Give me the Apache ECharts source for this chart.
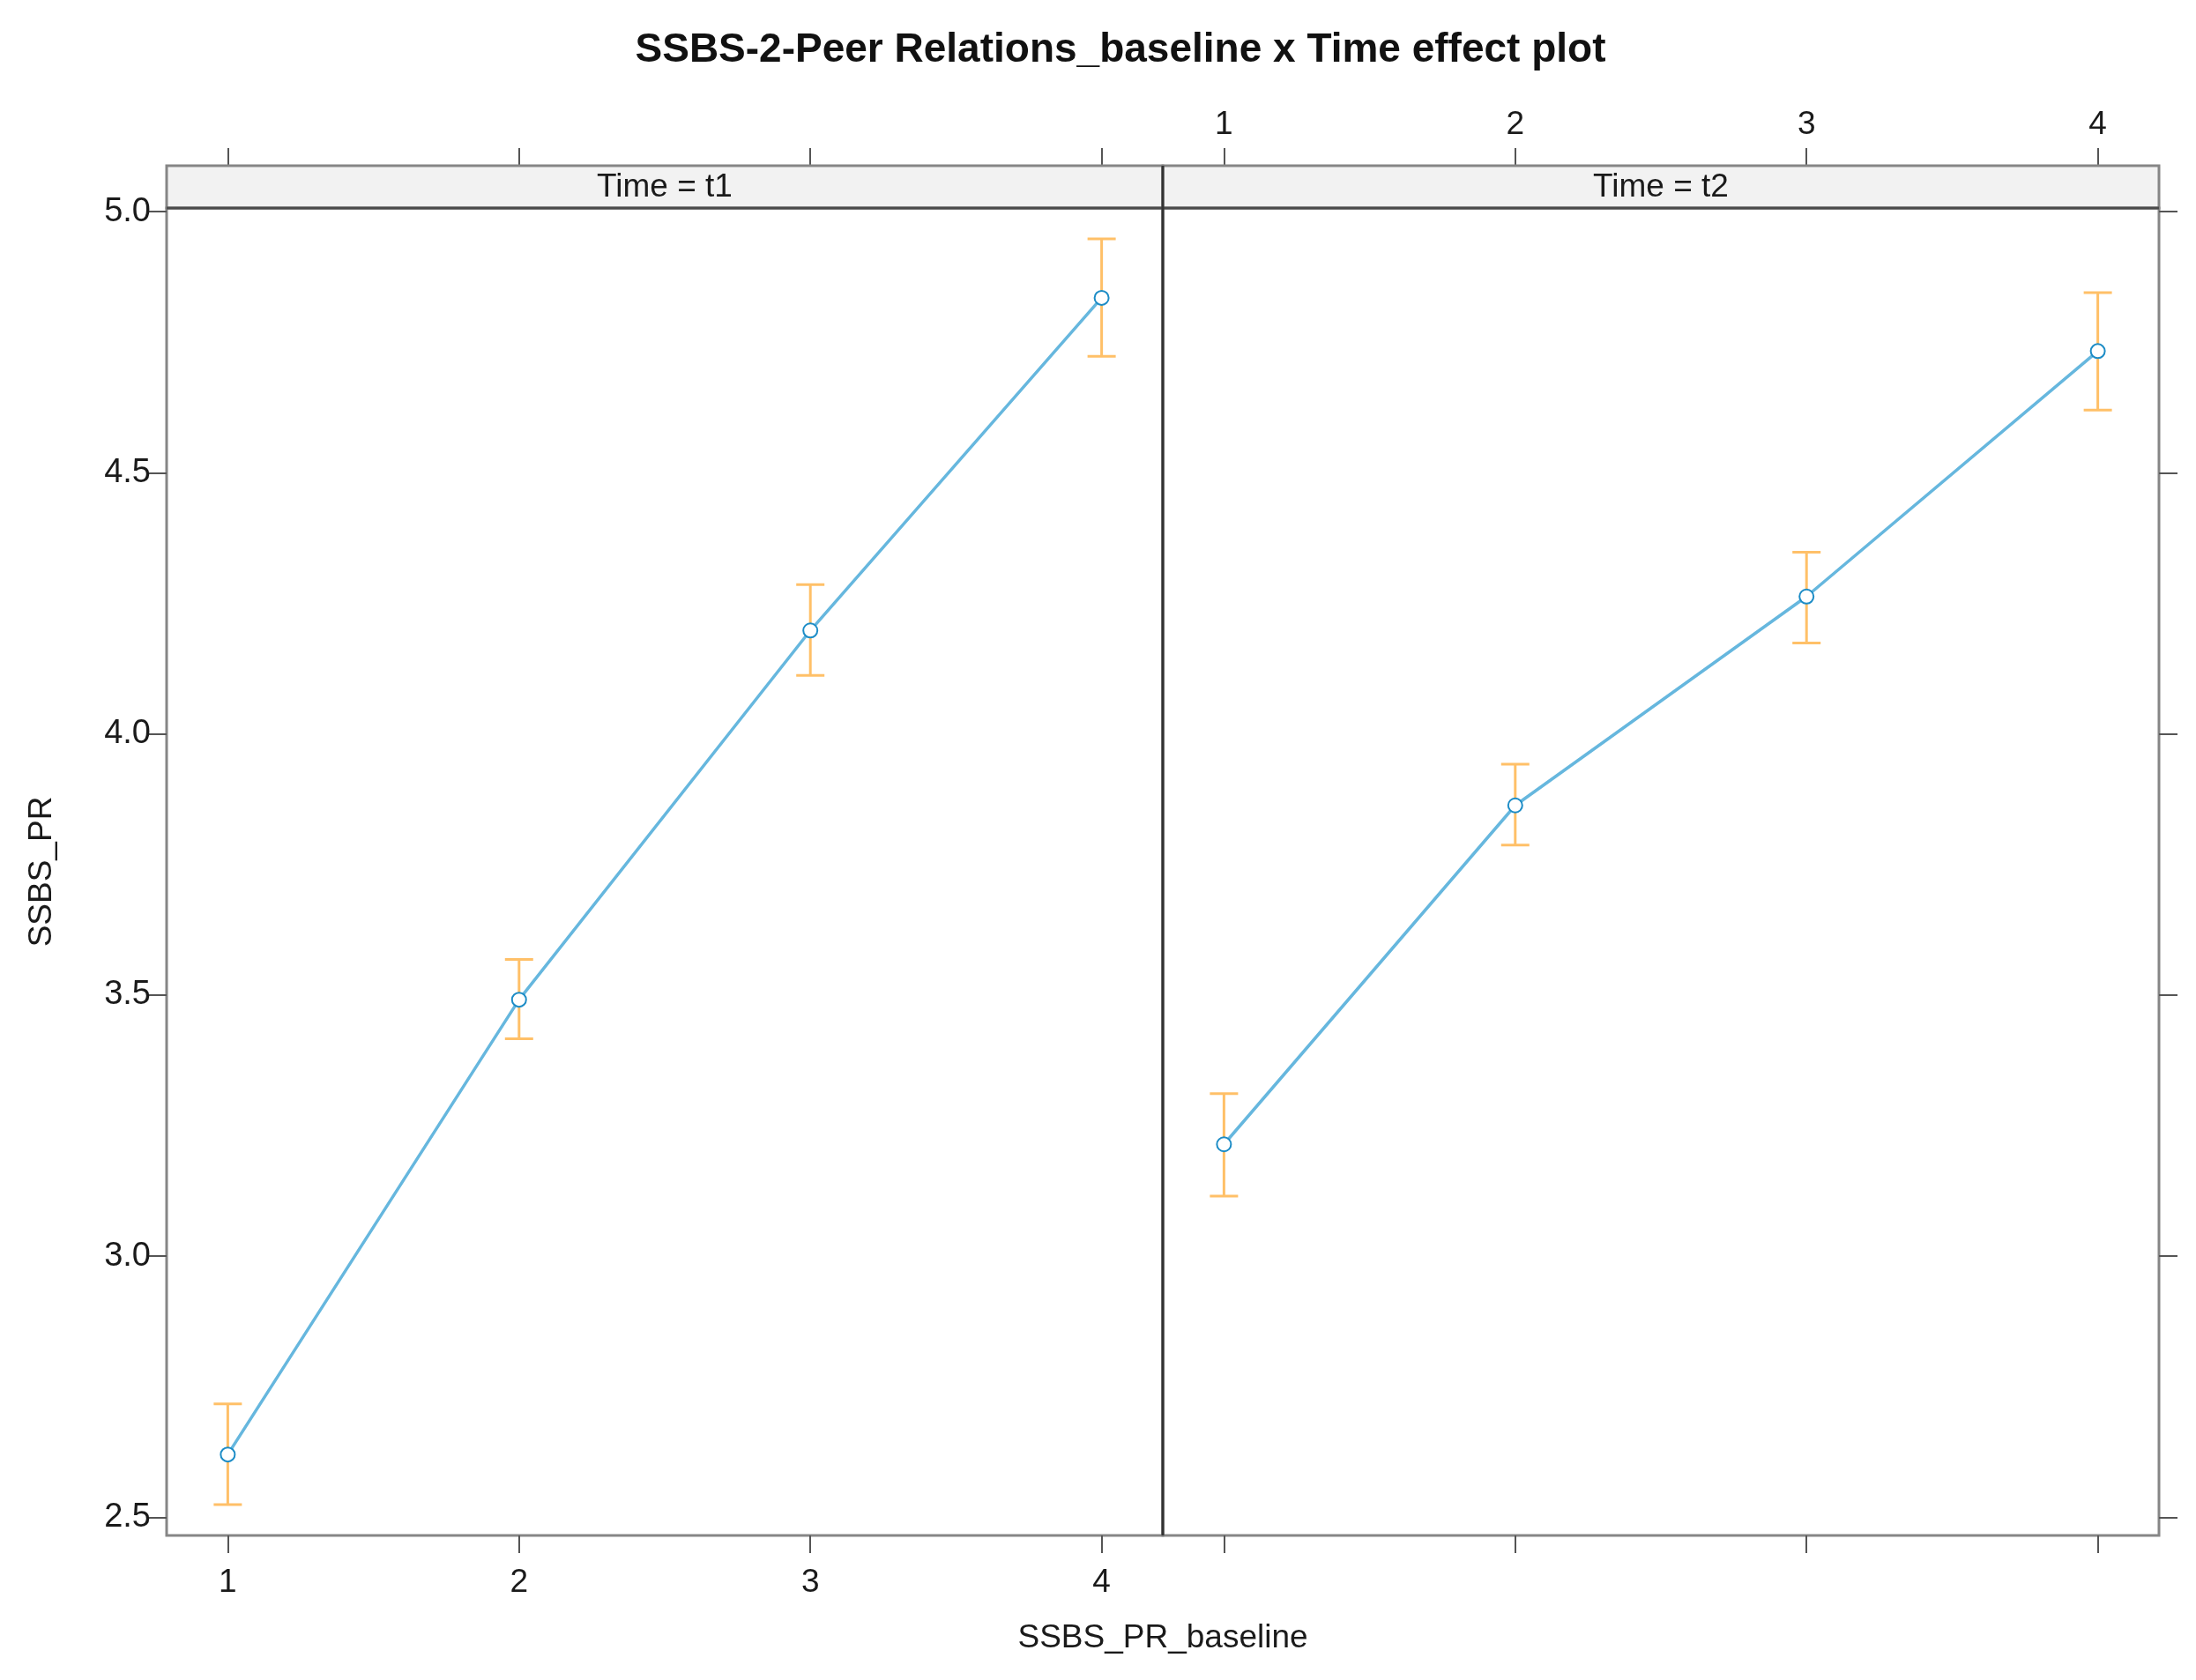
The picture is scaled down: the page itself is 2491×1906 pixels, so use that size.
<!DOCTYPE html>
<html>
<head>
<meta charset="utf-8">
<title>SSBS-2-Peer Relations_baseline x Time effect plot</title>
<script src="https://cdn.jsdelivr.net/npm/echarts@6/dist/echarts.min.js"></script>
<style>
  body { margin: 0; background: #fff; }
  #chart { width: 2491px; height: 1906px; }
</style>
</head>
<body>
<div id="chart"></div>
<script>
// values
const baseline = [1, 2, 3, 4];
const t1Fit = [2.620, 3.491, 4.198, 4.835];
const t1Lower = [2.524, 3.416, 4.112, 4.723];
const t1Upper = [2.717, 3.568, 4.286, 4.948];
const t2Fit = [3.214, 3.863, 4.263, 4.733];
const t2Lower = [3.115, 3.787, 4.174, 4.620];
const t2Upper = [3.311, 3.942, 4.348, 4.845];
const xTicks = [1, 2, 3, 4];
const yTicks = [2.5, 3.0, 3.5, 4.0, 4.5, 5.0];
const panelNames = ["Time = t1", "Time = t2"];

const FONT = "'Liberation Sans', Arial, sans-serif";
const LINE = "#66b7de";
const POINT = "#1c8cc6";
const BAR = "#ffc068";
const BORDER = "#868686";

// panel geometry (px)
const panelTop = 236, panelBottom = 1742, stripH = 48;
const p1Left = 189, pW = 1130, p2Left = p1Left + pW;

const chart = echarts.init(document.getElementById("chart"));

function pairs(xs, ys) {
  return xs.map((x, i) => [x, ys[i]]);
}
function bars(xs, lo, hi) {
  return xs.map((x, i) => [x, lo[i], hi[i]]);
}

function renderBar(params, api) {
  const x = api.value(0);
  const lo = api.coord([x, api.value(1)]);
  const hi = api.coord([x, api.value(2)]);
  const w = 16;
  const style = { stroke: BAR, lineWidth: 3 };
  return {
    type: "group",
    children: [
      { type: "line", shape: { x1: lo[0], y1: lo[1], x2: hi[0], y2: hi[1] }, style: style },
      { type: "line", shape: { x1: lo[0] - w, y1: lo[1], x2: lo[0] + w, y2: lo[1] }, style: style },
      { type: "line", shape: { x1: hi[0] - w, y1: hi[1], x2: hi[0] + w, y2: hi[1] }, style: style }
    ]
  };
}

function xAxis(grid, pos, labels) {
  return {
    type: "value",
    gridIndex: grid,
    position: pos,
    offset: pos === "top" ? stripH : 0,
    min: 0.79,
    max: 4.21,
    axisLine: { show: false },
    splitLine: { show: false },
    axisTick: { show: true, length: 20, customValues: xTicks, lineStyle: { color: "#555", width: 2 } },
    axisLabel: {
      show: labels,
      customValues: xTicks,
      margin: pos === "top" ? 28 : 35,
      fontSize: 37,
      fontFamily: FONT,
      color: "#1a1a1a"
    }
  };
}

function yAxis(grid, pos, labels) {
  return {
    type: "value",
    gridIndex: grid,
    position: pos,
    min: 2.465,
    max: 5.007,
    axisLine: { show: false },
    splitLine: { show: false },
    axisTick: { show: true, length: 21, customValues: yTicks, lineStyle: { color: "#555", width: 2 } },
    axisLabel: {
      show: labels,
      customValues: yTicks,
      margin: 18,
      fontSize: 38,
      fontFamily: FONT,
      color: "#1a1a1a",
      formatter: v => v.toFixed(1)
    }
  };
}

chart.setOption({
  animation: false,
  backgroundColor: "#fff",
  grid: [
    { left: p1Left, top: panelTop, width: pW, height: panelBottom - panelTop, show: true, borderColor: BORDER, borderWidth: 3 },
    { left: p2Left, top: panelTop, width: pW, height: panelBottom - panelTop, show: true, borderColor: BORDER, borderWidth: 3 }
  ],
  xAxis: [
    xAxis(0, "bottom", true),
    xAxis(0, "top", false),
    xAxis(1, "bottom", false),
    xAxis(1, "top", true)
  ],
  yAxis: [
    yAxis(0, "left", true),
    yAxis(1, "right", false)
  ],
  series: [
    {
      type: "custom",
      xAxisIndex: 0, yAxisIndex: 0,
      renderItem: renderBar,
      encode: { x: 0, y: [1, 2] },
      data: bars(baseline, t1Lower, t1Upper),
      z: 2
    },
    {
      type: "custom",
      xAxisIndex: 2, yAxisIndex: 1,
      renderItem: renderBar,
      encode: { x: 0, y: [1, 2] },
      data: bars(baseline, t2Lower, t2Upper),
      z: 2
    },
    {
      type: "line",
      xAxisIndex: 0, yAxisIndex: 0,
      data: pairs(baseline, t1Fit),
      symbol: "emptyCircle",
      symbolSize: 16,
      lineStyle: { color: LINE, width: 3.5 },
      itemStyle: { color: POINT, borderColor: POINT, borderWidth: 3 },
      z: 3
    },
    {
      type: "line",
      xAxisIndex: 2, yAxisIndex: 1,
      data: pairs(baseline, t2Fit),
      symbol: "emptyCircle",
      symbolSize: 16,
      lineStyle: { color: LINE, width: 3.5 },
      itemStyle: { color: POINT, borderColor: POINT, borderWidth: 3 },
      z: 3
    }
  ],
  graphic: [
    // strips
    {
      type: "rect", z: 10,
      shape: { x: p1Left, y: panelTop - stripH, width: pW, height: stripH },
      style: { fill: "#f2f2f2", stroke: BORDER, lineWidth: 3 }
    },
    {
      type: "rect", z: 10,
      shape: { x: p2Left, y: panelTop - stripH, width: pW, height: stripH },
      style: { fill: "#f2f2f2", stroke: BORDER, lineWidth: 3 }
    },
    {
      type: "line", z: 11,
      shape: { x1: p1Left, y1: panelTop, x2: p2Left + pW, y2: panelTop },
      style: { stroke: "#4a4a4a", lineWidth: 3 }
    },
    {
      type: "line", z: 11,
      shape: { x1: p2Left, y1: panelTop - stripH, x2: p2Left, y2: panelBottom },
      style: { stroke: "#333", lineWidth: 3 }
    },
    {
      type: "text", z: 12,
      style: { text: panelNames[0], x: p1Left + pW / 2, y: panelTop - stripH / 2 + 1, align: "center", verticalAlign: "middle", fontSize: 37, fontFamily: FONT, fill: "#1a1a1a" }
    },
    {
      type: "text", z: 12,
      style: { text: panelNames[1], x: p2Left + pW / 2, y: panelTop - stripH / 2 + 1, align: "center", verticalAlign: "middle", fontSize: 37, fontFamily: FONT, fill: "#1a1a1a" }
    },
    // titles
    {
      type: "text",
      style: { text: "SSBS-2-Peer Relations_baseline x Time effect plot", x: 1271, y: 57, align: "center", verticalAlign: "middle", fontSize: 46, fontWeight: "bold", fontFamily: FONT, fill: "#111" }
    },
    {
      type: "text",
      style: { text: "SSBS_PR_baseline", x: p2Left, y: 1859, align: "center", verticalAlign: "middle", fontSize: 37, fontFamily: FONT, fill: "#1a1a1a" }
    },
    {
      type: "text",
      x: 48, y: (panelTop + panelBottom) / 2, rotation: Math.PI / 2,
      style: { text: "SSBS_PR", x: 0, y: 0, align: "center", verticalAlign: "middle", fontSize: 37, fontFamily: FONT, fill: "#1a1a1a" }
    }
  ]
});
</script>
</body>
</html>
